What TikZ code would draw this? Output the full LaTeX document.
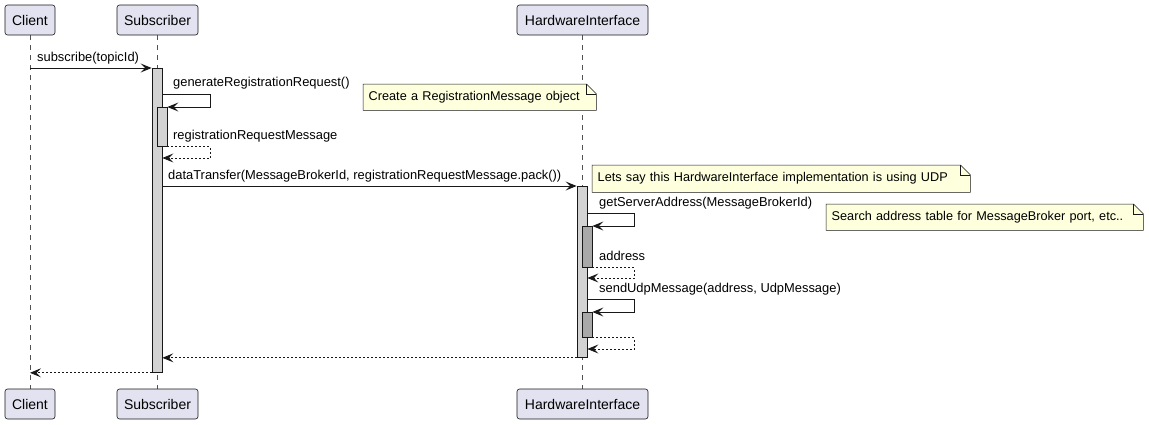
\documentclass[tikz,border=0pt]{standalone}
\usepackage{fontspec}
\setmainfont{Liberation Sans}
\usetikzlibrary{arrows.meta}
\definecolor{ink}{HTML}{181818}
\definecolor{partfill}{HTML}{E2E2F0}
\definecolor{notefill}{HTML}{FEFFDD}
\definecolor{actfill}{HTML}{D3D3D3}
\definecolor{actfilldark}{HTML}{A9A9A9}
\pgfdeclarelayer{under}
\pgfsetlayers{under,main}
% note outline with a folded top-right corner, drawn beneath the note text
\newcommand\notefold[1]{%
  \begin{pgfonlayer}{under}
    \filldraw[draw=ink,fill=notefill,line width=0.5pt,line join=miter]
      (#1.north west) -- ([xshift=-10pt]#1.north east) -- ([yshift=-10pt]#1.north east)
      -- (#1.south east) -- (#1.south west) -- cycle;
    \draw[ink,line width=0.5pt]
      ([xshift=-10pt]#1.north east) |- ([yshift=-10pt]#1.north east);
  \end{pgfonlayer}}
\tikzset{
  participant/.style={draw=ink,fill=partfill,line width=0.6pt,rounded corners=2.5pt,
    minimum height=30pt,inner sep=0pt,font=\fontsize{14pt}{16pt}\selectfont},
  lifeline/.style={ink!75,line width=0.6pt,dash pattern=on 5pt off 5pt},
  actbar/.style={draw=ink,fill=actfill,line width=0.8pt,minimum width=10pt,inner sep=0pt,anchor=north},
  actbardark/.style={actbar,fill=actfilldark},
  msg/.style={ink,line width=1pt,-{Stealth[length=11pt,width=9pt,inset=4.5pt]}},
  ret/.style={msg,line width=0.8pt,dash pattern=on 2pt off 2pt},
  msglabel/.style={anchor=base west,inner sep=0pt,font=\fontsize{12.9pt}{15pt}\selectfont},
  notetext/.style={anchor=north west,inner xsep=5.5pt,inner ysep=0pt,align=left,
    font=\fontsize{12.7pt}{15pt}\selectfont},
}
\begin{document}
\begin{tikzpicture}[x=1pt,y=-1pt]
\useasboundingbox (0,0) rectangle (1149,424);

% participants, top and bottom
\node[participant,minimum width=50pt] (clientT) at (30,20) {Client};
\node[participant,minimum width=81pt] (subT) at (157.5,20) {Subscriber};
\node[participant,minimum width=131pt] (hwT) at (582.5,20) {HardwareInterface};
\node[participant,minimum width=50pt] (clientB) at (30,404) {Client};
\node[participant,minimum width=81pt] (subB) at (157.5,404) {Subscriber};
\node[participant,minimum width=131pt] (hwB) at (582.5,404) {HardwareInterface};

% lifelines
\begin{pgfonlayer}{under}
  \draw[lifeline] (clientT) -- (clientB);
  \draw[lifeline] (subT) -- (subB);
  \draw[lifeline] (hwT) -- (hwB);
\end{pgfonlayer}

% activations
\node[actbar,minimum height=304pt] (actS) at (157,68) {};
\node[actbar,minimum height=39pt] (actS2) at (162,107) {};
\node[actbar,minimum height=171pt] (actH) at (582,186) {};
\node[actbardark,minimum height=41pt] (actH2) at (587,226) {};
\node[actbardark,minimum height=25pt] (actH3) at (587,312) {};

% messages
\draw[msg] (clientT |- actS.north) -- (actS.north west);
\node[msglabel] (lab1) at (37,61) {subscribe(topicId)};

\draw[msg] (actS.east |- 0,94) -- ++(48,0) |- (actS2.north east);
\node[msglabel] (lab2) at (173,86) {generateRegistrationRequest()};

\draw[ret] (actS2.south east) -- ++(43,0) |- (actS.east |- 0,158);
\node[msglabel] (lab3) at (173,139) {registrationRequestMessage};

\draw[msg] (actS.east |- actH.north) -- (actH.north west);
\node[msglabel] (lab4) at (168,179) {dataTransfer(MessageBrokerId, registrationRequestMessage.pack())};

\draw[msg] (actH.east |- 0,213) -- ++(47,0) |- (actH2.north east);
\node[msglabel] (lab5) at (599,206) {getServerAddress(MessageBrokerId)};

\draw[ret] (actH2.south east) -- ++(42,0) |- (actH.east |- 0,278);
\node[msglabel] (lab6) at (599,260) {address};

\draw[msg] (actH.east |- 0,299) -- ++(47,0) |- (actH3.north east);
\node[msglabel] (lab7) at (599,292) {sendUdpMessage(address, UdpMessage)};

\draw[ret] (actH3.south east) -- ++(42,0) |- (actH.east |- 0,349);

\draw[ret] (actH.south west) -- (actS.east |- actH.south);
\draw[ret] (actS.south west) -- (clientT |- actS.south);

% notes
\node[notetext,text width=222pt,minimum height=26pt] (noteA) at (363,84) {Create a RegistrationMessage object};
\notefold{noteA}
\node[notetext,text width=367pt,minimum height=27pt] (noteB) at (592,165) {Lets say this HardwareInterface implementation is using UDP};
\notefold{noteB}
\node[notetext,text width=306pt,minimum height=26pt] (noteC) at (826,204) {Search address table for MessageBroker port, etc..};
\notefold{noteC}
\end{tikzpicture}
\end{document}
